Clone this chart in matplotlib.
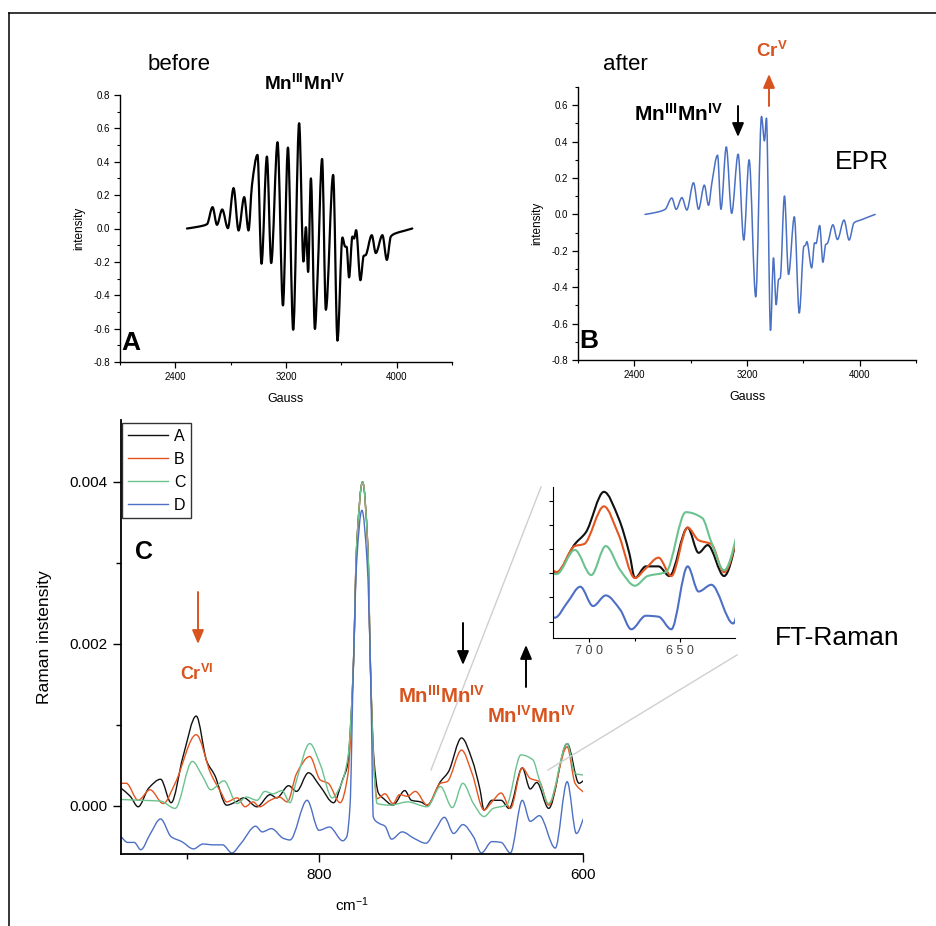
import matplotlib
matplotlib.use("Agg")
import numpy as np
import matplotlib.pyplot as plt
from matplotlib.lines import Line2D
from matplotlib.patches import FancyArrowPatch, PathPatch
from matplotlib.path import Path
from matplotlib.ticker import MultipleLocator, FixedLocator, FormatStrFormatter, NullFormatter

plt.rcParams['font.family'] = ['Liberation Sans', 'DejaVu Sans']
plt.rcParams['mathtext.fontset'] = 'custom'
plt.rcParams['mathtext.rm'] = 'Liberation Sans'
plt.rcParams['mathtext.bf'] = 'Liberation Sans:bold'
plt.rcParams['mathtext.it'] = 'Liberation Sans:italic'

# ---------------- EPR spectra (field in Gauss, normalised intensity) ----------------
epr_before_gauss = [2484, 2560, 2629, 2669, 2701, 2739, 2780, 2821, 2857, 2898, 2929, 2954,
                    2994, 3023, 3062, 3093, 3139, 3178, 3214, 3252, 3295, 3326, 3344, 3360,
                    3380, 3409, 3427, 3461, 3488, 3541, 3572, 3608, 3627, 3638, 3656, 3680,
                    3692, 3707, 3738, 3762, 3775, 3820, 3849, 3897, 3929, 3958, 3989, 4050, 4113]
epr_before_int = [0.0, 0.010, 0.026, 0.128, 0.022, 0.114, 0.002, 0.242, -0.012, 0.188, -0.012, 0.26,
                  0.441, -0.211, 0.431, -0.207, 0.517, -0.461, 0.485, -0.607, 0.631, -0.198, 0.008, -0.26,
                  0.30, -0.602, -0.317, 0.417, -0.487, 0.321, -0.672, -0.054, -0.108, -0.11, -0.293, -0.048,
                  -0.06, -0.01, -0.31, -0.163, -0.16, -0.04, -0.147, -0.04, -0.188, -0.048, -0.03, -0.015, 0.0]

epr_after_gauss = [2476, 2560, 2619, 2666, 2697, 2738, 2773, 2820, 2856, 2897, 2927, 2950, 2991,
                   3015, 3053, 3091, 3137, 3177, 3215, 3262, 3303, 3324, 3338, 3367, 3388, 3407,
                   3424, 3436, 3466, 3495, 3536, 3571, 3604, 3615, 3625, 3659, 3680, 3690, 3716,
                   3739, 3759, 3770, 3810, 3842, 3889, 3925, 3960, 4010, 4110]
epr_after_int = [0.0, 0.012, 0.028, 0.09, 0.028, 0.092, 0.024, 0.174, 0.028, 0.161, 0.05, 0.17, 0.325,
                 0.028, 0.371, 0.006, 0.331, -0.141, 0.30, -0.453, 0.538, 0.404, 0.529, -0.637, -0.239, -0.496,
                 -0.358, -0.35, 0.101, -0.33, -0.013, -0.542, -0.175, -0.17, -0.15, -0.294, -0.156, -0.16, -0.061,
                 -0.263, -0.165, -0.16, -0.057, -0.138, -0.031, -0.141, -0.046, -0.03, 0.0]

# ---------------- FT-Raman spectra (cm-1, intensity in units of 1e-3) ----------------
raman_a_shift = [950, 943, 937, 929, 920, 912, 903, 893, 885, 879, 870, 863, 857, 847, 837, 832, 823,
                 817, 808, 799, 789, 782, 778.5, 774, 771.5, 767, 763, 761, 758.5, 755, 751, 744, 735,
                 730, 723, 718, 708, 702, 692, 684, 678, 675, 669, 662, 656, 646, 640, 635, 626, 612,
                 603, 599]
raman_a_milli = [0.22, 0.12, -0.01, 0.22, 0.33, 0.04, 0.61, 1.11, 0.55, 0.38, 0.01, 0.05, 0.10, -0.01,
                 0.14, 0.10, 0.25, 0.18, 0.41, 0.24, 0.04, 0.33, 0.5, 1.7, 3.2, 4.0, 3.2, 1.7, 0.6, 0.16,
                 0.09, 0.01, 0.19, 0.07, 0.05, 0.01, 0.30, 0.42, 0.84, 0.57, 0.20, -0.05, 0.07, 0.07,
                 -0.03, 0.47, 0.21, 0.29, -0.03, 0.77, 0.28, 0.32]

raman_b_shift = [950, 946, 937, 928, 918, 909, 893, 882, 874, 870, 862, 856, 850, 845, 837, 830, 824,
                 817, 807, 799, 793, 784, 778, 774, 771.5, 767, 763, 761, 758.5, 756, 750, 744, 739,
                 733, 727, 718, 708, 703, 692, 684, 675, 669, 662, 655, 646, 640, 633, 626, 612, 606, 599]
raman_b_milli = [0.28, 0.28, 0.07, 0.20, 0.03, 0.28, 0.88, 0.40, 0.16, 0.05, 0.10, -0.01, 0.05, -0.01,
                 0.07, 0.11, 0.05, 0.40, 0.61, 0.32, 0.28, 0.04, 0.40, 1.7, 3.2, 4.0, 3.2, 1.7, 0.5, 0.09,
                 0.15, 0.03, 0.14, 0.12, 0.18, 0.01, 0.28, 0.30, 0.69, 0.40, -0.05, 0.05, 0.16, -0.03,
                 0.47, 0.34, 0.30, 0.01, 0.73, 0.28, 0.16]

raman_c_shift = [950, 935, 920, 909, 896, 888, 882, 872, 862, 855, 847, 841, 835, 828, 822, 817, 807,
                 799, 790, 784, 778, 774, 771.5, 767, 763, 761, 758.5, 756, 746, 733, 718, 708, 699,
                 691, 683, 675, 668, 658, 647, 638, 633, 626, 612, 606, 599]
raman_c_milli = [0.08, 0.07, 0.06, -0.03, 0.55, 0.36, 0.20, 0.31, 0.03, 0.11, 0.07, 0.18, 0.15, 0.19,
                 0.04, 0.32, 0.77, 0.51, 0.10, 0.24, 0.61, 1.7, 3.2, 4.0, 3.2, 1.7, 0.5, 0.03, 0.01,
                 0.05, -0.01, 0.24, -0.02, 0.28, 0.03, -0.13, -0.03, 0.01, 0.63, 0.57, 0.32, 0.03, 0.77,
                 0.40, 0.38]

raman_d_shift = [950, 945, 940, 935, 928, 920, 912, 904, 895, 888, 880, 873, 866, 859, 848, 843, 836,
                 827, 822, 809, 800, 792, 782, 779, 776.5, 774, 771.5, 767.5, 763.5, 761, 760, 759,
                 755, 750, 745, 737, 728, 719, 712, 705, 698, 691, 683, 677, 669, 662, 655, 646, 640,
                 633, 621, 612, 605, 599]
raman_d_milli = [-0.38, -0.45, -0.45, -0.54, -0.35, -0.16, -0.38, -0.44, -0.53, -0.47, -0.48, -0.48,
                 -0.58, -0.46, -0.25, -0.32, -0.28, -0.40, -0.42, 0.07, -0.30, -0.26, -0.43, -0.38, 0.0,
                 1.7, 3.0, 3.65, 3.0, 1.7, 0.8, -0.13, -0.21, -0.25, -0.41, -0.32, -0.40, -0.46, -0.30,
                 -0.14, -0.34, -0.23, -0.38, -0.58, -0.44, -0.45, -0.58, 0.07, -0.19, -0.12, -0.52, 0.30,
                 -0.34, -0.13]

raman_labels = ['A', 'B', 'C', 'D']
raman_colors = ['#111111', '#e4561f', '#6cc28e', '#4d6fc4']
raman_series = [(raman_a_shift, raman_a_milli), (raman_b_shift, raman_b_milli),
                (raman_c_shift, raman_c_milli), (raman_d_shift, raman_d_milli)]

ORANGE = '#d8541e'
W, H = 936, 926
fig = plt.figure(figsize=(W / 100, H / 100), dpi=100)


def box(left, top, right, bottom):
    return [left / W, 1 - bottom / H, (right - left) / W, (bottom - top) / H]


def fp(px, py):
    return (px / W, 1 - py / H)


def smooth_trace(ax, x, y, **kw):
    """Draw a spectrum as a monotone cubic (spline-connected) curve in data space."""
    x = np.asarray(x, float)
    y = np.asarray(y, float)
    h = np.diff(x)
    delta = np.diff(y) / h
    n = len(x)
    m = np.zeros(n)
    m[0], m[-1] = delta[0], delta[-1]
    for k in range(1, n - 1):
        if delta[k - 1] * delta[k] > 0:
            w1 = 2 * h[k] + h[k - 1]
            w2 = h[k] + 2 * h[k - 1]
            m[k] = (w1 + w2) / (w1 / delta[k - 1] + w2 / delta[k])
    verts = [(x[0], y[0])]
    codes = [Path.MOVETO]
    for k in range(n - 1):
        verts += [(x[k] + h[k] / 3, y[k] + m[k] * h[k] / 3),
                  (x[k + 1] - h[k] / 3, y[k + 1] - m[k + 1] * h[k] / 3),
                  (x[k + 1], y[k + 1])]
        codes += [Path.CURVE4] * 3
    patch = PathPatch(Path(verts, codes), fill=False, capstyle='round', joinstyle='round', **kw)
    ax.add_patch(patch)
    return patch


def style_epr(ax):
    for s in ('top', 'right'):
        ax.spines[s].set_visible(False)
    for s in ('left', 'bottom'):
        ax.spines[s].set_linewidth(1.0)
    ax.set_xlim(2000, 4400)
    ax.xaxis.set_major_locator(FixedLocator([2400, 3200, 4000]))
    ax.xaxis.set_minor_locator(FixedLocator([2000, 2800, 3600, 4400]))
    ax.yaxis.set_major_locator(MultipleLocator(0.2))
    ax.yaxis.set_minor_locator(MultipleLocator(0.1))
    ax.yaxis.set_major_formatter(FormatStrFormatter('%.1f'))
    ax.tick_params(which='major', direction='out', length=4, width=0.9, labelsize=7, pad=3)
    ax.tick_params(which='minor', direction='out', length=2.5, width=0.8)
    ax.set_xlabel('Gauss', fontsize=9, labelpad=8)
    ax.set_ylabel('intensity', fontsize=8.5, labelpad=6)


# ---- Panel A: before ----
axA = fig.add_axes(box(120, 95, 452, 362))
smooth_trace(axA, epr_before_gauss, epr_before_int, edgecolor='#000000', lw=1.6)
axA.set_ylim(-0.8, 0.8)
style_epr(axA)

# ---- Panel B: after ----
axB = fig.add_axes(box(578, 87, 916, 360))
smooth_trace(axB, epr_after_gauss, epr_after_int, edgecolor='#4a70c4', lw=1.1)
axB.set_ylim(-0.8, 0.7)
style_epr(axB)

# ---- Panel C: FT-Raman ----
axC = fig.add_axes(box(121, 420, 583, 854))
handles = []
for (sx, sy), lab, col in zip(raman_series, raman_labels, raman_colors):
    smooth_trace(axC, sx, np.array(sy) * 1e-3, edgecolor=col, lw=1.0)
    handles.append(Line2D([], [], color=col, lw=1.0, label=lab))
axC.set_xlim(950, 600)
axC.set_ylim(-0.593e-3, 4.765e-3)
for s in ('top', 'right'):
    axC.spines[s].set_visible(False)
for s in ('left', 'bottom'):
    axC.spines[s].set_linewidth(1.3)
axC.xaxis.set_major_locator(FixedLocator([800, 600]))
axC.xaxis.set_minor_locator(FixedLocator([900, 700]))
axC.yaxis.set_major_locator(FixedLocator([0.0, 0.002, 0.004]))
axC.yaxis.set_minor_locator(FixedLocator([0.001, 0.003]))
axC.yaxis.set_major_formatter(FormatStrFormatter('%.3f'))
axC.tick_params(which='major', direction='out', length=6, width=1.0, labelsize=11, pad=4)
axC.tick_params(which='minor', direction='out', length=3.5, width=1.0)
axC.set_xlabel(r'cm$^{-1}$', fontsize=11, labelpad=10)
axC.set_ylabel('Raman instensity', fontsize=12.5, labelpad=12)
leg = axC.legend(handles=handles, loc='upper left', bbox_to_anchor=fp(122, 423),
                 bbox_transform=fig.transFigure, fontsize=11.5, frameon=True, fancybox=False,
                 handlelength=2.5, handletextpad=0.4, labelspacing=0.5, borderpad=0.35,
                 borderaxespad=0)
leg.get_frame().set_edgecolor('#000000')
leg.get_frame().set_linewidth(1.0)

# ---- Inset: 720-620 cm-1 close-up ----
axI = fig.add_axes(box(553, 487, 735, 638))
axI.patch.set_alpha(0)
for (sx, sy), col in zip(raman_series, raman_colors):
    smooth_trace(axI, sx, np.array(sy) * 1e-3, edgecolor=col, lw=1.5)
axI.set_xlim(720, 620)
axI.set_ylim(-0.67e-3, 0.89e-3)
for s in ('top', 'right'):
    axI.spines[s].set_visible(False)
axI.xaxis.set_major_locator(FixedLocator([700, 650]))
axI.xaxis.set_minor_locator(FixedLocator([675]))
axI.set_xticklabels(['7 0 0', '6 5 0'])
axI.yaxis.set_major_locator(FixedLocator([-0.5e-3, -0.25e-3, 0.0, 0.25e-3, 0.5e-3, 0.75e-3]))
axI.yaxis.set_major_formatter(NullFormatter())
axI.tick_params(which='major', direction='out', length=3, width=0.8, labelsize=9,
                labelcolor='#444444', pad=2)
axI.tick_params(which='minor', direction='out', length=2, width=0.8)

# ---- Zoom guide lines ----
for (x0, y0), (x1, y1) in [((431, 770), (541, 487)), ((548, 770), (737, 655))]:
    fig.add_artist(Line2D([x0 / W, x1 / W], [1 - y0 / H, 1 - y1 / H],
                          transform=fig.transFigure, color='#cfcfcf', lw=1.0))

# ---- Outer frame lines ----
fig.add_artist(Line2D([9 / W, 1.0], [1 - 13 / H, 1 - 13 / H], transform=fig.transFigure,
                      color='#000000', lw=1.1))
fig.add_artist(Line2D([9 / W, 9 / W], [1 - 13 / H, 0.0], transform=fig.transFigure,
                      color='#000000', lw=1.1))


def arrow(x, y0, y1, color):
    fig.add_artist(FancyArrowPatch(fp(x, y0), fp(x, y1), transform=fig.transFigure,
                                   arrowstyle='-|>,head_length=0.75,head_width=0.32',
                                   mutation_scale=11, lw=1.4, color=color,
                                   shrinkA=0, shrinkB=0))


def label(px, py, s, **kw):
    fig.text(*fp(px, py), s, **kw)


MN34 = r'$\mathbf{Mn^{III}Mn^{IV}}$'
MN44 = r'$\mathbf{Mn^{IV}Mn^{IV}}$'

# EPR annotations
label(148, 65, 'before', fontsize=16, ha='left', va='center')
label(603, 65, 'after', fontsize=16, ha='left', va='center')
label(264, 84, MN34, fontsize=13.7, ha='left', va='center', color='#000000')
label(634, 114, MN34, fontsize=15, ha='left', va='center', color='#000000')
label(756, 51, r'$\mathbf{Cr^{V}}$', fontsize=13.5, ha='left', va='center', color=ORANGE)
label(835, 162, 'EPR', fontsize=19, ha='left', va='center')
label(121, 343, 'A', fontsize=19, fontweight='bold', ha='left', va='center')
label(579, 341, 'B', fontsize=19, fontweight='bold', ha='left', va='center')
arrow(738, 106, 137, '#000000')
arrow(769, 106, 74, ORANGE)

# Raman annotations
label(135, 552, 'C', fontsize=18, fontweight='bold', ha='left', va='center')
label(180, 674, r'$\mathbf{Cr^{VI}}$', fontsize=13, ha='left', va='center', color=ORANGE)
label(398, 696, MN34, fontsize=14.7, ha='left', va='center', color=ORANGE)
label(487, 716, MN44, fontsize=14.7, ha='left', va='center', color=ORANGE)
label(775, 638, 'FT-Raman', fontsize=19, ha='left', va='center')
arrow(198, 592, 644, ORANGE)
arrow(463, 623, 665, '#000000')
arrow(526, 687, 645, '#000000')

fig.savefig('out.png', dpi=100, facecolor='white')
